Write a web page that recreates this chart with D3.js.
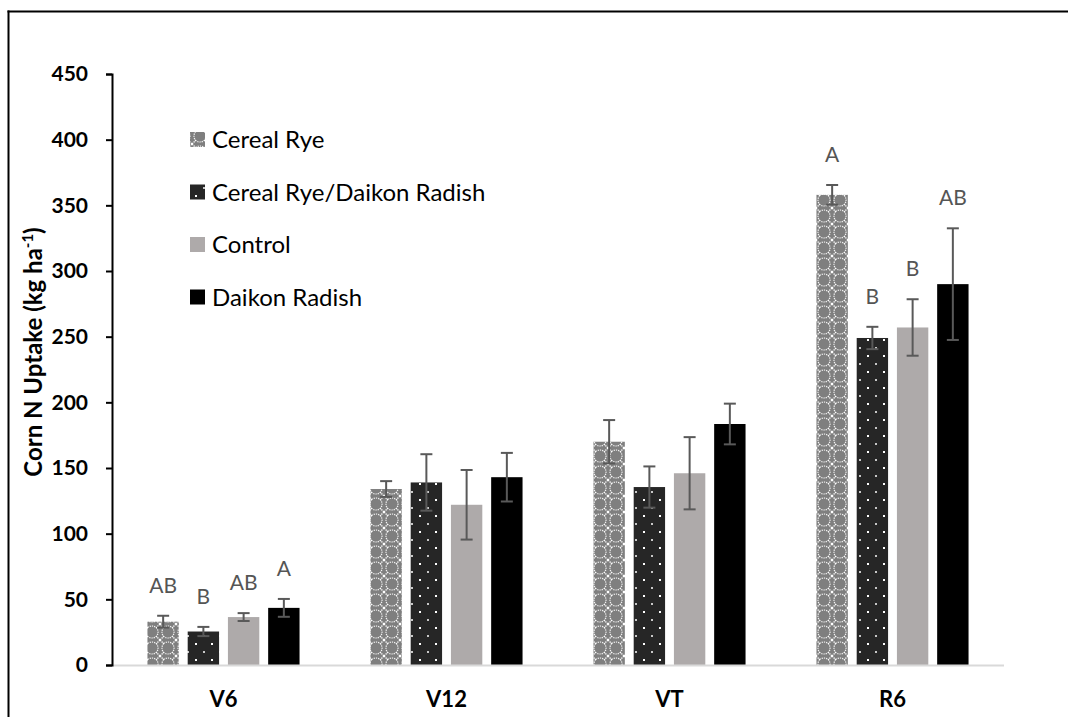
<!DOCTYPE html>
<html>
<head>
<meta charset="utf-8">
<script src="https://cdn.jsdelivr.net/npm/d3@7"></script>
<style>
  html, body { margin: 0; padding: 0; background: #fff; }
  svg { display: block; font-family: Lato, "Open Sans", sans-serif; }
</style>
</head>
<body>
<svg id="chart" width="1068" height="717"></svg>
<script>
// Growth stages and treatments
const stages = ["V6", "V12", "VT", "R6"];
const treatments = ["Cereal Rye", "Cereal Rye/Daikon Radish", "Control", "Daikon Radish"];

// Mean corn N uptake (kg ha-1), one array per treatment, ordered by stage
const cerealRye      = [33, 134, 170, 358];
const ryeRadish      = [25.5, 139, 135.5, 249];
const control        = [36.5, 122, 146, 257];
const daikonRadish   = [43.5, 143, 183.5, 290];

// Error bar half-widths
const cerealRyeErr    = [4.5, 6, 16.5, 7.5];
const ryeRadishErr    = [3.5, 21.5, 15.7, 8.5];
const controlErr      = [3, 26.5, 27.5, 21.5];
const daikonRadishErr = [6.8, 18.5, 15.5, 42.5];

// Mean separation letters (empty where none shown)
const cerealRyeLetters    = ["AB", "", "", "A"];
const ryeRadishLetters    = ["B", "", "", "B"];
const controlLetters      = ["AB", "", "", "B"];
const daikonRadishLetters = ["A", "", "", "AB"];

const yTicks = [0, 50, 100, 150, 200, 250, 300, 350, 400, 450];

const seriesValues  = [cerealRye, ryeRadish, control, daikonRadish];
const seriesErrors  = [cerealRyeErr, ryeRadishErr, controlErr, daikonRadishErr];
const seriesLetters = [cerealRyeLetters, ryeRadishLetters, controlLetters, daikonRadishLetters];

const rows = [];
stages.forEach((s, i) => {
  treatments.forEach((t, j) => {
    rows.push({ stage: s, treatment: t, idx: j,
      value: seriesValues[j][i], err: seriesErrors[j][i], letter: seriesLetters[j][i] });
  });
});

const svg = d3.select("#chart");
const W = 1068, H = 717;
const plotLeft = 112, plotRight = 1004;
const plotTop = 74, plotBottom = 665;

// Frame lines on the left and top edges
svg.append("line").attr("x1", 8.5).attr("x2", 8.5).attr("y1", 10.5).attr("y2", H)
  .attr("stroke", "#000").attr("stroke-width", 2);
svg.append("line").attr("x1", 7.5).attr("x2", W).attr("y1", 11.5).attr("y2", 11.5)
  .attr("stroke", "#000").attr("stroke-width", 2);

// Fill patterns: rounded diamond lattice, and staggered dots
const defs = svg.append("defs");
const pRye = defs.append("pattern").attr("id", "pat-rye")
  .attr("patternUnits", "userSpaceOnUse").attr("width", 16).attr("height", 16);
pRye.append("rect").attr("width", 16).attr("height", 16).attr("fill", "#7f7f7f");
pRye.append("path")
  .attr("d", "M3.5,3.5Q8,0.5 12.5,3.5Q15.5,8 12.5,12.5Q8,15.5 3.5,12.5Q0.5,8 3.5,3.5Z")
  .attr("fill", "none").attr("stroke", "#f4f4f4").attr("stroke-width", 1.2)
  .attr("stroke-dasharray", "1.3,1");
pRye.append("path")
  .attr("d", "M0,0L4,4M16,0L12,4M0,16L4,12M16,16L12,12")
  .attr("stroke", "#fff").attr("stroke-width", 1.4).attr("stroke-dasharray", "1.4,0.9");

const pDots = defs.append("pattern").attr("id", "pat-dots")
  .attr("patternUnits", "userSpaceOnUse").attr("width", 16).attr("height", 16);
pDots.append("rect").attr("width", 16).attr("height", 16).attr("fill", "#262626");
pDots.append("rect").attr("x", 3).attr("y", 3).attr("width", 2).attr("height", 2).attr("fill", "#fff");
pDots.append("rect").attr("x", 11).attr("y", 11).attr("width", 2).attr("height", 2).attr("fill", "#c8c8c8");

const fills = ["url(#pat-rye)", "url(#pat-dots)", "#aeaaaa", "#000000"];

// Scales
const x = d3.scaleBand().domain(stages)
  .range([plotLeft, plotRight])
  .paddingInner(0.318).paddingOuter(0.159);
const xs = d3.scaleBand().domain(d3.range(treatments.length))
  .range([0, x.bandwidth()]).paddingInner(0.22);
const y = d3.scaleLinear().domain([0, 450]).range([plotBottom, plotTop]);

// Bars
svg.append("g").selectAll("rect").data(rows).join("rect")
  .attr("x", d => x(d.stage) + xs(d.idx))
  .attr("y", d => y(d.value))
  .attr("width", xs.bandwidth())
  .attr("height", d => y(0) - y(d.value))
  .attr("fill", d => fills[d.idx]);

// Error bars
const eb = svg.append("g").attr("stroke", "#595959").attr("stroke-width", 2);
rows.forEach(d => {
  const cx = x(d.stage) + xs(d.idx) + xs.bandwidth() / 2;
  const y1 = y(d.value + d.err), y2 = y(d.value - d.err);
  eb.append("line").attr("x1", cx).attr("x2", cx).attr("y1", y1).attr("y2", y2);
  eb.append("line").attr("x1", cx - 6).attr("x2", cx + 6).attr("y1", y1).attr("y2", y1);
  eb.append("line").attr("x1", cx - 6).attr("x2", cx + 6).attr("y1", y2).attr("y2", y2);
});

// Letters above error bars
svg.append("g").selectAll("text").data(rows.filter(d => d.letter)).join("text")
  .attr("x", d => x(d.stage) + xs(d.idx) + xs.bandwidth() / 2)
  .attr("y", d => y(d.value + d.err) - 23)
  .attr("text-anchor", "middle")
  .attr("font-size", 21)
  .attr("fill", "#555555")
  .text(d => d.letter);

// X axis
svg.append("line").attr("x1", plotLeft).attr("x2", plotRight)
  .attr("y1", y(0) + 0.5).attr("y2", y(0) + 0.5)
  .attr("stroke", "#d9d9d9").attr("stroke-width", 2);
svg.append("g").selectAll("text").data(stages).join("text")
  .attr("x", d => x(d) + x.bandwidth() / 2)
  .attr("y", y(0) + 42)
  .attr("text-anchor", "middle")
  .attr("font-size", 22).attr("font-weight", "bold").attr("fill", "#000")
  .text(d => d);

// Y axis
const yAxis = svg.append("g").attr("transform", `translate(${plotLeft},0)`)
  .call(d3.axisLeft(y).tickValues(yTicks).tickSize(6).tickPadding(18));
yAxis.select(".domain").attr("stroke", "#000").attr("stroke-width", 2);
yAxis.selectAll(".tick line").attr("stroke", "#000").attr("stroke-width", 2);
yAxis.selectAll(".tick text").attr("font-size", 21).attr("font-weight", "bold")
  .attr("fill", "#000").attr("font-family", "Lato, sans-serif");

// Y axis title
const title = svg.append("text")
  .attr("transform", `translate(42,352) rotate(-90)`)
  .attr("text-anchor", "middle")
  .attr("font-size", 24).attr("font-weight", "bold").attr("fill", "#000");
title.append("tspan").text("Corn N Uptake (kg ha");
title.append("tspan").attr("dy", -9).attr("font-size", 15).text("-1");
title.append("tspan").attr("dy", 9).text(")");

// Legend
const legend = svg.append("g");
treatments.forEach((t, i) => {
  const cy = 140 + i * 52.5;
  legend.append("rect").attr("x", 190).attr("y", cy - 8).attr("width", 15).attr("height", 15)
    .attr("fill", fills[i]);
  legend.append("text").attr("x", 212).attr("y", cy + 8)
    .attr("font-size", 24).attr("fill", "#000").text(t);
});
</script>
</body>
</html>
